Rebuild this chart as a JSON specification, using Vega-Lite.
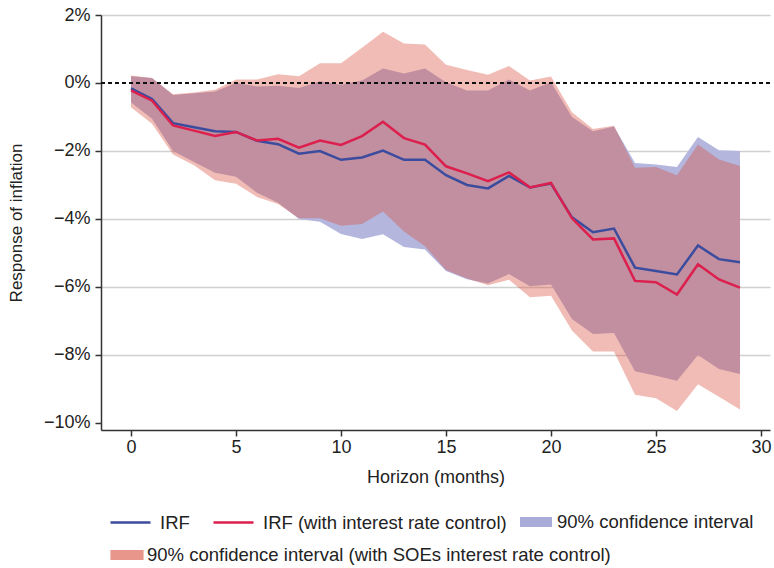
{
  "$schema": "https://vega.github.io/schema/vega-lite/v6.json",
  "width": 669,
  "height": 415,
  "autosize": {"type": "none"},
  "padding": {"left": 101, "top": 15, "right": 4, "bottom": 138},
  "background": "white",
  "config": {
    "font": "Liberation Sans",
    "view": {"stroke": null},
    "axis": {
      "labelFont": "Liberation Sans",
      "titleFont": "Liberation Sans",
      "labelFontSize": 18,
      "titleFontSize": 18,
      "titleFontWeight": "normal",
      "labelColor": "#222",
      "titleColor": "#222",
      "domainColor": "#333",
      "domainWidth": 1.5,
      "tickColor": "#333",
      "tickWidth": 1.5,
      "tickSize": 6
    },
    "legend": {"labelFont": "Liberation Sans"}
  },
  "data": {
    "values": [
      {"h": 0, "irf": -0.16, "irf_r": -0.22, "ci_lo": -0.57, "ci_hi": 0.2, "soe_lo": -0.71, "soe_hi": 0.22},
      {"h": 1, "irf": -0.47, "irf_r": -0.52, "ci_lo": -1.05, "ci_hi": 0.15, "soe_lo": -1.2, "soe_hi": 0.15},
      {"h": 2, "irf": -1.18, "irf_r": -1.25, "ci_lo": -2.0, "ci_hi": -0.35, "soe_lo": -2.1, "soe_hi": -0.33},
      {"h": 3, "irf": -1.3, "irf_r": -1.4, "ci_lo": -2.32, "ci_hi": -0.3, "soe_lo": -2.42, "soe_hi": -0.28},
      {"h": 4, "irf": -1.42, "irf_r": -1.56, "ci_lo": -2.64, "ci_hi": -0.25, "soe_lo": -2.86, "soe_hi": -0.2},
      {"h": 5, "irf": -1.44, "irf_r": -1.44, "ci_lo": -2.76, "ci_hi": 0.0, "soe_lo": -2.96, "soe_hi": 0.1},
      {"h": 6, "irf": -1.7, "irf_r": -1.69, "ci_lo": -3.23, "ci_hi": -0.1, "soe_lo": -3.35, "soe_hi": 0.1},
      {"h": 7, "irf": -1.8, "irf_r": -1.64, "ci_lo": -3.52, "ci_hi": -0.08, "soe_lo": -3.56, "soe_hi": 0.26},
      {"h": 8, "irf": -2.08, "irf_r": -1.9, "ci_lo": -4.0, "ci_hi": -0.15, "soe_lo": -3.98, "soe_hi": 0.2},
      {"h": 9, "irf": -2.0, "irf_r": -1.69, "ci_lo": -4.08, "ci_hi": 0.05, "soe_lo": -3.98, "soe_hi": 0.58},
      {"h": 10, "irf": -2.26, "irf_r": -1.82, "ci_lo": -4.44, "ci_hi": -0.05, "soe_lo": -4.2, "soe_hi": 0.58},
      {"h": 11, "irf": -2.19, "irf_r": -1.56, "ci_lo": -4.59, "ci_hi": 0.07, "soe_lo": -4.15, "soe_hi": 1.04},
      {"h": 12, "irf": -1.99, "irf_r": -1.14, "ci_lo": -4.45, "ci_hi": 0.43, "soe_lo": -3.78, "soe_hi": 1.51},
      {"h": 13, "irf": -2.26, "irf_r": -1.62, "ci_lo": -4.82, "ci_hi": 0.28, "soe_lo": -4.37, "soe_hi": 1.16},
      {"h": 14, "irf": -2.26, "irf_r": -1.81, "ci_lo": -4.9, "ci_hi": 0.43, "soe_lo": -4.8, "soe_hi": 1.13},
      {"h": 15, "irf": -2.71, "irf_r": -2.45, "ci_lo": -5.53, "ci_hi": 0.02, "soe_lo": -5.5, "soe_hi": 0.54},
      {"h": 16, "irf": -3.0, "irf_r": -2.66, "ci_lo": -5.77, "ci_hi": -0.22, "soe_lo": -5.75, "soe_hi": 0.38},
      {"h": 17, "irf": -3.1, "irf_r": -2.89, "ci_lo": -5.9, "ci_hi": -0.22, "soe_lo": -5.95, "soe_hi": 0.24},
      {"h": 18, "irf": -2.73, "irf_r": -2.63, "ci_lo": -5.62, "ci_hi": 0.1, "soe_lo": -5.79, "soe_hi": 0.5},
      {"h": 19, "irf": -3.07, "irf_r": -3.07, "ci_lo": -5.98, "ci_hi": -0.22, "soe_lo": -6.3, "soe_hi": 0.07},
      {"h": 20, "irf": -2.96, "irf_r": -2.94, "ci_lo": -5.93, "ci_hi": 0.02, "soe_lo": -6.26, "soe_hi": 0.19},
      {"h": 21, "irf": -3.95, "irf_r": -3.98, "ci_lo": -6.94, "ci_hi": -1.0, "soe_lo": -7.28, "soe_hi": -0.86},
      {"h": 22, "irf": -4.39, "irf_r": -4.6, "ci_lo": -7.38, "ci_hi": -1.42, "soe_lo": -7.9, "soe_hi": -1.35},
      {"h": 23, "irf": -4.28, "irf_r": -4.57, "ci_lo": -7.35, "ci_hi": -1.28, "soe_lo": -7.9, "soe_hi": -1.26},
      {"h": 24, "irf": -5.43, "irf_r": -5.82, "ci_lo": -8.48, "ci_hi": -2.35, "soe_lo": -9.17, "soe_hi": -2.49},
      {"h": 25, "irf": -5.53, "irf_r": -5.86, "ci_lo": -8.61, "ci_hi": -2.4, "soe_lo": -9.27, "soe_hi": -2.47},
      {"h": 26, "irf": -5.63, "irf_r": -6.22, "ci_lo": -8.76, "ci_hi": -2.47, "soe_lo": -9.65, "soe_hi": -2.71},
      {"h": 27, "irf": -4.78, "irf_r": -5.33, "ci_lo": -8.0, "ci_hi": -1.59, "soe_lo": -8.86, "soe_hi": -1.81},
      {"h": 28, "irf": -5.18, "irf_r": -5.78, "ci_lo": -8.41, "ci_hi": -1.98, "soe_lo": -9.23, "soe_hi": -2.25},
      {"h": 29, "irf": -5.27, "irf_r": -6.02, "ci_lo": -8.56, "ci_hi": -2.0, "soe_lo": -9.6, "soe_hi": -2.44}
    ]
  },
  "layer": [
    {
      "mark": {"type": "area", "color": "#b4b6de", "opacity": 1},
      "encoding": {
        "x": {
          "field": "h", "type": "quantitative",
          "scale": {"domain": [-1.43, 30.43], "nice": false, "zero": false},
          "axis": {"title": "Horizon (months)", "values": [0, 5, 10, 15, 20, 25, 30], "grid": false, "labelPadding": 2, "titlePadding": 12}
        },
        "y": {
          "field": "ci_lo", "type": "quantitative",
          "scale": {"domain": [-10.206, 2], "nice": false, "zero": false},
          "axis": {
            "title": "Response of inflation",
            "titleFontSize": 17,
            "values": [-10, -8, -6, -4, -2, 0, 2],
            "format": "d",
            "labelExpr": "datum.label + '%'",
            "grid": true,
            "gridColor": {"condition": {"test": "datum.value === -10 || datum.value === 0", "value": "transparent"}, "value": "#d0d0d0"},
            "gridWidth": 1.5,
            "labelPadding": 5,
            "titlePadding": 18
          }
        },
        "y2": {"field": "ci_hi"}
      }
    },
    {
      "mark": {"type": "area", "color": "#d84f3c", "opacity": 0.38},
      "encoding": {
        "x": {"field": "h", "type": "quantitative"},
        "y": {"field": "soe_lo", "type": "quantitative"},
        "y2": {"field": "soe_hi"}
      }
    },
    {
      "mark": {"type": "rule", "color": "#111", "strokeDash": [4, 3], "strokeWidth": 1.2},
      "encoding": {"y": {"datum": 0}}
    },
    {
      "mark": {"type": "line", "color": "#3b4c9e", "strokeWidth": 2.5},
      "encoding": {
        "x": {"field": "h", "type": "quantitative"},
        "y": {"field": "irf", "type": "quantitative"}
      }
    },
    {
      "mark": {"type": "line", "color": "#dc1f4d", "strokeWidth": 2.5},
      "encoding": {
        "x": {"field": "h", "type": "quantitative"},
        "y": {"field": "irf_r", "type": "quantitative"}
      }
    },
    {
      "data": {
        "values": [
          {"series": "IRF"},
          {"series": "IRF (with interest rate control)"}
        ]
      },
      "transform": [{"filter": "false"}],
      "mark": {"type": "point", "filled": false},
      "encoding": {
        "color": {
          "field": "series", "type": "nominal",
          "scale": {
            "domain": ["IRF", "IRF (with interest rate control)"],
            "range": ["#3b4c9e", "#dc1f4d"]
          },
          "legend": {
            "title": null,
            "orient": "none",
            "legendX": 8,
            "legendY": 486,
            "direction": "horizontal",
            "columnPadding": 18,
            "symbolType": "stroke",
            "symbolSize": 1600,
            "symbolStrokeWidth": 2.5,
            "symbolOpacity": 1,
            "labelFontSize": 18.5,
            "labelColor": "#222",
            "labelOffset": 8,
            "labelLimit": 1000
          }
        }
      }
    },
    {
      "data": {
        "values": [
          {"series3": "90% confidence interval"}
        ]
      },
      "transform": [{"filter": "false"}],
      "mark": {"type": "point", "filled": true},
      "encoding": {
        "fill": {
          "field": "series3", "type": "nominal",
          "scale": {
            "domain": ["90% confidence interval"],
            "range": ["#a9abd8"]
          },
          "legend": {
            "title": null,
            "orient": "none",
            "legendX": 419,
            "legendY": 491,
            "direction": "horizontal",
            "symbolType": "M-1,-0.3125H1V0.3125H-1Z",
            "symbolSize": 1024,
            "symbolStrokeWidth": 0,
            "symbolOpacity": 1,
            "labelFontSize": 18.5,
            "labelColor": "#222",
            "labelOffset": 5,
            "labelLimit": 1000
          }
        }
      }
    },
    {
      "data": {
        "values": [
          {"series2": "90% confidence interval (with SOEs interest rate control)"}
        ]
      },
      "transform": [{"filter": "false"}],
      "mark": {"type": "point", "filled": false},
      "encoding": {
        "stroke": {
          "field": "series2", "type": "nominal",
          "scale": {
            "domain": ["90% confidence interval (with SOEs interest rate control)"],
            "range": ["#e8958b"]
          },
          "legend": {
            "title": null,
            "orient": "none",
            "legendX": 4,
            "legendY": 518,
            "direction": "horizontal",
            "symbolType": "stroke",
            "symbolSize": 1100,
            "symbolStrokeWidth": 10,
            "symbolOpacity": 1,
            "labelFontSize": 18.5,
            "labelColor": "#222",
            "labelOffset": -2,
            "labelLimit": 1000
          }
        }
      }
    }
  ]
}
